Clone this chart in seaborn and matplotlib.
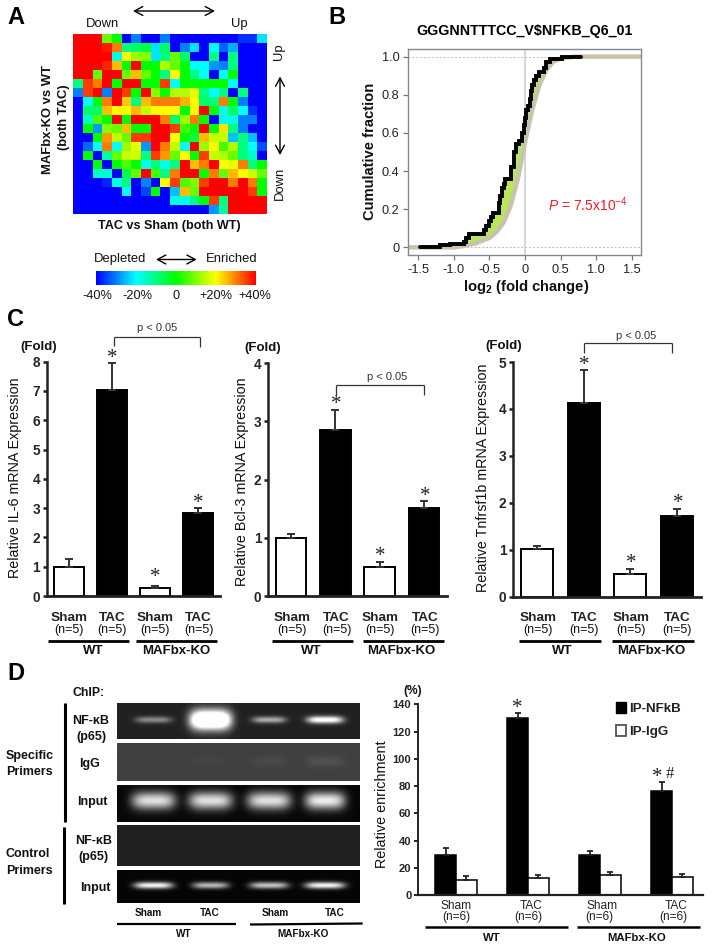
import numpy as np
import pandas as pd
import seaborn as sns
import matplotlib
matplotlib.use("Agg")
import matplotlib.pyplot as plt
from matplotlib.colors import LinearSegmentedColormap
from matplotlib.lines import Line2D
from matplotlib.patches import Patch

# ---- panel A enrichment matrix (percent), top row first
enrichment = [
    [40, 40, 40, 8, 0, -40, -30, -40, -40, -30, -40, -40, -40, -40, -40, -40, -40, -36, -36, -22],
    [40, 40, 40, 38, 30, -10, -8, -5, -22, -8, -40, -30, -22, -40, -20, -32, -26, -40, -40, -40],
    [40, 40, 40, 40, -18, 20, 12, 10, -22, -10, 8, -8, -40, -40, -10, -40, -10, -40, -40, -40],
    [40, 40, 40, 37, 25, 0, 40, 0, 0, 14, 8, 0, -20, -20, -28, -30, -10, -40, -40, -40],
    [40, 40, 8, 40, 40, 8, 25, 8, 0, -10, 20, 0, -10, -20, -40, -20, 0, -40, -40, -40],
    [-10, 35, 30, 40, 0, 40, 40, 0, 0, 35, -20, 0, 0, 0, 0, 0, -20, -40, -40, -40],
    [-30, 35, 40, -30, 40, 35, 0, 40, 10, 0, 14, 14, 18, -10, -20, -10, -40, -10, -40, -40],
    [-40, -20, 0, 30, 40, 24, -10, 25, 30, 30, 30, 26, 20, -8, -10, 30, 0, -30, -40, -40],
    [-40, -8, -8, 25, 20, 20, 25, 15, 20, 20, 20, 0, 20, 40, 0, -18, -8, -20, -36, -40],
    [-40, -15, 6, 0, 40, 0, 40, 40, 40, 30, -8, 12, 30, 0, -40, -18, -18, -30, -30, -40],
    [-40, 0, -28, 10, 8, 25, 0, 0, 40, 40, 35, 5, 0, 40, 0, 22, -10, -30, -40, -40],
    [-40, -40, 0, 28, 15, 8, 35, 35, 40, 40, 20, 0, -5, 25, 15, 15, -25, -10, -25, -40],
    [-40, -32, -20, 30, -20, 12, 18, -28, 40, 30, 15, -18, 40, 12, 20, 5, 14, -10, -20, -34],
    [-40, 0, -40, -12, 8, 15, 16, -10, 35, 28, 8, 20, 0, 35, 15, 14, 8, -10, -15, -40],
    [-40, -40, 0, -40, 0, 6, 0, -18, -10, -18, -10, 40, 25, 30, 40, 20, 18, 30, -10, 0],
    [-40, -40, -16, -16, -40, -6, 8, 40, 5, -10, 30, 40, 40, 0, 30, 8, 25, 20, 16, 8],
    [-40, -40, -40, -37, -18, -10, -40, -30, -40, 20, 35, 6, 10, 35, 40, 40, 30, 40, 30, 0],
    [-40, -40, -40, -40, -40, -20, -40, -35, 0, -40, -25, 25, 8, 40, 40, 40, 40, 40, 35, 0],
    [-40, -40, -40, -40, -40, -40, -40, -40, -40, -40, -18, -18, -10, 0, 35, -10, 40, 40, 40, 40],
    [-40, -40, -40, -40, -40, -40, -40, -40, -40, -40, -40, -40, -40, -40, -28, -12, 40, 40, 40, 40],
]

# ---- panel B cumulative curves
all_x = [-1.64, -1.0, -0.9, -0.7, -0.5, -0.4, -0.3, -0.2, -0.1, 0.0, 0.1, 0.2, 0.3, 0.4, 0.5, 0.7, 1.63]
all_y = [0.0, 0.0, 0.005, 0.02, 0.05, 0.08, 0.13, 0.22, 0.36, 0.55, 0.72, 0.85, 0.93, 0.975, 0.99, 1.0, 1.0]
set_x = [-1.47, -1.19, -1.05, -0.85, -0.83, -0.78, -0.75, -0.58, -0.55, -0.5, -0.48, -0.45, -0.43, -0.36,
         -0.35, -0.32, -0.3, -0.28, -0.27, -0.2, -0.19, -0.16, -0.15, -0.12, -0.08, -0.04, -0.02, 0.0,
         0.01, 0.04, 0.07, 0.08, 0.1, 0.13, 0.15, 0.2, 0.27, 0.3, 0.35, 0.4, 0.52, 0.79]
set_y = [0.0, 0.01, 0.02, 0.03, 0.05, 0.07, 0.07, 0.09, 0.11, 0.14, 0.16, 0.18, 0.18, 0.23,
         0.27, 0.31, 0.33, 0.36, 0.36, 0.40, 0.42, 0.46, 0.50, 0.54, 0.56, 0.60, 0.64, 0.68,
         0.72, 0.74, 0.78, 0.82, 0.85, 0.88, 0.90, 0.92, 0.94, 0.97, 0.99, 0.99, 1.0, 1.0]

# ---- panel C qPCR bars
conditions = ["WT Sham", "WT TAC", "KO Sham", "KO TAC"]
il6_vals = [1.0, 7.03, 0.27, 2.82]
il6_tops = [1.25, 7.95, 0.33, 3.0]
bcl3_vals = [1.0, 2.85, 0.5, 1.52]
bcl3_tops = [1.06, 3.2, 0.58, 1.63]
tnf_vals = [1.01, 4.13, 0.49, 1.71]
tnf_tops = [1.07, 4.82, 0.58, 1.87]

# ---- panel D ChIP bars
chip_groups = ["WT Sham", "WT TAC", "KO Sham", "KO TAC"]
nfkb_vals = [29, 130, 29, 76]
nfkb_tops = [34.3, 133.4, 32, 82.7]
igg_vals = [11, 12.5, 14.5, 13]
igg_tops = [13.7, 14.9, 16.6, 15.7]

# ---- panel D gel lanes: background, band row, band centres, peak, half widths
lane_x = [0.15, 0.385, 0.626, 0.857]
gels = [
    dict(box=(117, 702.7, 360, 739), bg=0.13, y=0.48, wy=0.09, peak=[0.42, 1.5, 0.55, 0.95], wx=[0.075, 0.085, 0.07, 0.075], ws=[1, 3.0, 1, 1.1]),
    dict(box=(117, 742.7, 360, 780.7), bg=0.25, y=0.5, wy=0.15, peak=[0.01, 0.02, 0.04, 0.07], wx=[0.07, 0.08, 0.07, 0.08], ws=[1, 1, 1, 1]),
    dict(box=(117, 785, 360, 822), bg=0.03, y=0.42, wy=0.24, peak=[0.85, 0.85, 0.85, 0.9], wx=[0.09, 0.09, 0.09, 0.083], ws=[1, 1, 1, 1]),
    dict(box=(117, 825, 360, 866), bg=0.13, y=0.4, wy=0.05, peak=[0, 0, 0, 0], wx=[0.07, 0.07, 0.07, 0.07], ws=[1, 1, 1, 1]),
    dict(box=(117, 870, 360, 903.3), bg=0.02, y=0.48, wy=0.1, peak=[0.95, 0.7, 0.75, 0.95], wx=[0.08, 0.075, 0.08, 0.082], ws=[1, 1, 1, 1]),
]

W, H = 714, 948
sns.set_theme(style="white")
plt.rcParams["font.family"] = ["Liberation Sans", "DejaVu Sans"]
plt.rcParams["mathtext.fontset"] = "custom"
plt.rcParams["mathtext.rm"] = "Liberation Sans"
plt.rcParams["mathtext.it"] = "Liberation Sans:italic"
plt.rcParams["mathtext.bf"] = "Liberation Sans:bold"

fig = plt.figure(figsize=(W / 100, H / 100), dpi=100, facecolor="white")


def px_axes(x0, y0, x1, y1):
    return fig.add_axes([x0 / W, 1 - y1 / H, (x1 - x0) / W, (y1 - y0) / H])


def label(x, y, s, size=9.5, weight="normal", ha="center", color="#111111", **kw):
    return fig.text(x / W, 1 - y / H, s, fontsize=size, fontweight=weight, ha=ha, va="center", color=color, **kw)


def rule(x0, y0, x1, y1, lw=2.0, color="black"):
    fig.add_artist(Line2D([x0 / W, x1 / W], [1 - y0 / H, 1 - y1 / H], lw=lw, color=color, solid_capstyle="butt"))


def arrow(x0, y0, x1, y1):
    fig.add_artist(matplotlib.patches.FancyArrowPatch(
        (x0 / W, 1 - y0 / H), (x1 / W, 1 - y1 / H), transform=fig.transFigure,
        arrowstyle="<->,head_length=6,head_width=3.2", lw=1.0, color="black", shrinkA=0, shrinkB=0))


def star(x, y, s="*"):
    # the asterisk sits high in its line box, so move it down a bit
    label(x, y + 3.5, s, size=15, family="Liberation Serif", color="#222222")


# panel letters
label(7, 18, "A", size=17, weight="bold", ha="left", color="black")
label(328, 18, "B", size=17, weight="bold", ha="left", color="black")
label(7, 320, "C", size=17, weight="bold", ha="left", color="black")
label(7, 674, "D", size=17, weight="bold", ha="left", color="black")

# ---------- A: heatmap
jet5 = LinearSegmentedColormap.from_list("jet5", ["#0000ff", "#00ffff", "#00ff00", "#ffff00", "#ff0000"])
ax_a = px_axes(73.3, 33.5, 267, 214)
cax = px_axes(96, 271, 256, 285)
sns.heatmap(np.array(enrichment), ax=ax_a, cmap=jet5, vmin=-40, vmax=40, cbar_ax=cax, square=False,
            xticklabels=False, yticklabels=False, cbar_kws={"orientation": "horizontal"})
cax.set_xticks([-40, -20, 0, 20, 40])
cax.set_xticklabels([])
cax.tick_params(length=0)
for v, s, x in zip([-40, -20, 0, 20, 40], ["-40%", "-20%", "0", "+20%", "+40%"], [97, 137, 176, 216, 255]):
    label(x, 296, s, size=9.2)
label(103, 24, "Down", size=9.4)
label(239, 24, "Up", size=9.4)
arrow(133, 11, 215, 11)
label(278.5, 52, "Up", size=9.4, rotation=90)
label(279.5, 183, "Down", size=9.4, rotation=90)
arrow(280, 76.5, 280, 155)
label(47.7, 120, "MAFbx-KO vs WT", size=9.4, weight="bold", rotation=90)
label(64, 117, "(both TAC)", size=9.4, weight="bold", rotation=90)
label(169, 226, "TAC vs Sham (both WT)", size=9.1, weight="bold")
label(120, 259.3, "Depleted", size=9.4)
label(231.7, 259.3, "Enriched", size=9.4)
arrow(156, 259.5, 196.7, 259.5)

# ---------- B: cumulative fraction
ax_b = px_axes(408.3, 49, 641, 255)
ax_b.set_xlim(-1.637, 1.627)
ax_b.set_ylim(-0.04, 1.04)
ax_b.axhline(0, color="#bbbbbb", lw=0.7, ls=(0, (2, 2)))
ax_b.axhline(1, color="#bbbbbb", lw=0.7, ls=(0, (2, 2)))
ax_b.axvline(0, color="#d0d0d0", lw=1.2)
step_x = np.repeat(set_x, 2)[1:]
step_y = np.repeat(set_y, 2)[:-1]
ax_b.fill(np.r_[step_x[4:], all_x[::-1][2:-2]], np.r_[step_y[4:], all_y[::-1][2:-2]], color="#b9e65a", lw=0)
sns.lineplot(x=all_x, y=all_y, ax=ax_b, color="#c8c3ac", lw=3.2, estimator=None, sort=False)
ax_b.plot(step_x, step_y, color="black", lw=2.8, solid_joinstyle="miter")
ax_b.set_xticks([-1.5, -1, -0.5, 0, 0.5, 1, 1.5])
ax_b.set_xticklabels(["-1.5", "-1.0", "-0.5", "0", "0.5", "1.0", "1.5"])
ax_b.set_yticks([0, 0.2, 0.4, 0.6, 0.8, 1])
ax_b.set_yticklabels(["0", "0.2", "0.4", "0.6", "0.8", "1.0"])
ax_b.tick_params(labelsize=9.2, length=3.5, width=0.9, color="#777777", labelcolor="#222222", bottom=True, left=True, pad=3)
for sp in ax_b.spines.values():
    sp.set_color("#7f8a94")
    sp.set_linewidth(1.0)
label(524.3, 31, "GGGNNTTTCC_V$NFKB_Q6_01", size=10.3, weight="bold", color="black")
label(370, 151.7, "Cumulative fraction", size=10.6, weight="bold", rotation=90)
label(525.7, 287, r"log$\mathbf{_2}$ (fold change)", size=10.6, weight="bold")
label(588, 205, r"$\mathit{P}$ = 7.5x10$^{-4}$", size=10, color="#e8202a")


# ---------- C: qPCR panels
def qpcr_panel(box, vals, tops, ymax, name):
    x0, y0, x1, y1 = box
    ax = px_axes(x0, y0, x1, y1)
    df = pd.DataFrame({"cond": conditions, "value": vals})
    sns.barplot(data=df, x="cond", y="value", hue="cond", palette=["white", "black", "white", "black"],
                ax=ax, width=0.69, edgecolor="black", linewidth=1.4, saturation=1, legend=False)
    err = np.array(tops) - np.array(vals)
    ax.errorbar(range(4), vals, yerr=[np.zeros(4), err], fmt="none", ecolor="#333333", elinewidth=1.4, capsize=2.6, capthick=1.4)
    ax.set_xlim(-0.51, 3.51)
    ax.set_ylim(0, ymax)
    ax.set_yticks(range(ymax + 1))
    ax.set_xticks([])
    ax.set_xlabel("")
    ax.set_ylabel("")
    sns.despine(ax=ax)
    ax.spines["left"].set_linewidth(1.8)
    ax.spines["bottom"].set_linewidth(2.0)
    ax.spines["left"].set_color("#222222")
    ax.spines["bottom"].set_color("#222222")
    ax.tick_params(axis="y", left=True, length=3, width=1.8, labelsize=9.8, pad=2, color="#222222")
    for t in ax.get_yticklabels():
        t.set_fontweight("bold")
    return ax


qpcr_panel((47, 361.7, 220, 596), il6_vals, il6_tops, 8, "IL-6")
qpcr_panel((268.3, 363.3, 446.7, 596), bcl3_vals, bcl3_tops, 4, "Bcl-3")
qpcr_panel((513.3, 362, 700.7, 596.7), tnf_vals, tnf_tops, 5, "Tnfrsf1b")

label(15, 478, "Relative IL-6 mRNA Expression", size=10.3, rotation=90)
label(241.7, 482, "Relative Bcl-3 mRNA Expression", size=10.3, rotation=90)
label(482.7, 478, "Relative Tnfrsf1b mRNA Expression", size=10.3, rotation=90)
label(39, 347, "(Fold)", size=9.5, weight="bold")
label(263, 348, "(Fold)", size=9.5, weight="bold")
label(504, 346, "(Fold)", size=9.5, weight="bold")

for xs, lines, groups in [
    ([69, 112, 155, 198.5], [(48, 129), (136, 217)], [93, 176]),
    ([291.7, 336.5, 380.3, 424.7], [(271.7, 353.3), (362.7, 444)], [311.7, 401]),
    ([537.7, 584.3, 630.8, 677.3], [(519.3, 600.7), (612.3, 694)], [562.7, 651.7]),
]:
    for x, s in zip(xs, ["Sham", "TAC", "Sham", "TAC"]):
        label(x, 618, s, size=9.7, weight="bold", color="#222222")
        label(x, 630.5, "(n=5)", size=9)
    for a, b in lines:
        rule(a, 640.7, b, 640.7, lw=2.0)
    label(groups[0], 650.5, "WT", size=9.5, weight="bold")
    label(groups[1], 650.5, "MAFbx-KO", size=9.5, weight="bold")

for x, y in [(112.7, 355), (155, 574), (198, 500), (336, 401), (380.7, 553), (425, 492.7),
             (584.3, 362), (631, 560), (678.3, 500)]:
    star(x, y)

for xl, xr, top, dl, dr, tx, ty in [(114.3, 200, 336.7, 345.7, 346.7, 157, 328),
                                    (336, 424, 385.3, 395, 395, 387.3, 377),
                                    (584.3, 672.3, 343.3, 353, 353, 635.7, 335.7)]:
    rule(xl, dl, xl, top, lw=0.9, color="#333333")
    rule(xl, top, xr, top, lw=0.9, color="#333333")
    rule(xr, top, xr, dr, lw=0.9, color="#333333")
    label(tx, ty, "p < 0.05", size=8, color="#333333")

# ---------- D: gels
for g in gels:
    x0, y0, x1, y1 = g["box"]
    ax = px_axes(x0, y0, x1, y1)
    nx, ny = int(x1 - x0) * 2, int(y1 - y0) * 2
    xx, yy = np.meshgrid(np.linspace(0, 1, nx), np.linspace(0, 1, ny))
    img = np.full_like(xx, g["bg"])
    for cx, peak, wx, ws in zip(lane_x, g["peak"], g["wx"], g["ws"]):
        img += peak * np.exp(-(np.abs(xx - cx) / wx) ** 4 - (np.abs(yy - g["y"]) / (g["wy"] * ws)) ** 2)
    ax.imshow(img, cmap="gray", vmin=0, vmax=1, aspect="auto", interpolation="bilinear")
    ax.axis("off")

label(72.7, 693, "ChIP:", size=8.8, weight="bold", ha="left")
label(91, 720.7, "NF-κB", size=9, weight="bold")
label(91, 737, "(p65)", size=9, weight="bold")
label(90, 764, "IgG", size=9, weight="bold")
label(92.7, 801.7, "Input", size=9, weight="bold")
label(93.3, 841, "NF-κB", size=9, weight="bold")
label(93.3, 857, "(p65)", size=9, weight="bold")
label(95, 888, "Input", size=9, weight="bold")
label(6, 756, "Specific", size=9, weight="bold", ha="left")
label(6, 772, "Primers", size=9, weight="bold", ha="left")
label(6, 854, "Control", size=9, weight="bold", ha="left")
label(6, 870.7, "Primers", size=9, weight="bold", ha="left")
rule(65, 702.7, 65, 821.7, lw=2.2)
rule(64.3, 826.7, 64.3, 904, lw=2.2)
for x, s in zip([148, 210, 275, 335], ["Sham", "TAC", "Sham", "TAC"]):
    label(x, 913, s, size=7.2, weight="bold")
rule(117, 924, 235.7, 924, lw=1.6)
rule(250, 924.5, 362.7, 923.5, lw=1.6)
label(184, 933.7, "WT", size=7.2, weight="bold")
label(302.7, 934, "MAFbx-KO", size=7.2, weight="bold")

# ---------- D: enrichment bars
ax_d = px_axes(418.3, 704.3, 703.3, 895)
chip = pd.DataFrame({
    "group": chip_groups * 2,
    "value": nfkb_vals + igg_vals,
    "ip": ["IP-NFkB"] * 4 + ["IP-IgG"] * 4,
})
sns.barplot(data=chip, x="group", y="value", hue="ip", palette=["black", "white"], ax=ax_d, width=0.58,
            dodge=True, edgecolor="black", linewidth=1.1, saturation=1, legend=False)
centres = np.arange(4)
ax_d.errorbar(centres - 0.145, nfkb_vals, yerr=[np.zeros(4), np.array(nfkb_tops) - nfkb_vals], fmt="none",
              ecolor="#222222", elinewidth=1.3, capsize=2.3, capthick=1.3)
ax_d.errorbar(centres + 0.145, igg_vals, yerr=[np.zeros(4), np.array(igg_tops) - igg_vals], fmt="none",
              ecolor="#222222", elinewidth=1.3, capsize=2.3, capthick=1.3)
ax_d.set_xlim(-0.524, 3.435)
ax_d.set_ylim(0, 140)
ax_d.set_yticks(range(0, 141, 20))
ax_d.set_xticks([])
ax_d.set_xlabel("")
ax_d.set_ylabel("")
sns.despine(ax=ax_d)
ax_d.spines["left"].set_linewidth(1.4)
ax_d.spines["bottom"].set_linewidth(1.6)
ax_d.spines["left"].set_color("#222222")
ax_d.spines["bottom"].set_color("#222222")
ax_d.tick_params(axis="y", left=True, length=3, width=1.4, labelsize=8, pad=2, color="#222222")
for t in ax_d.get_yticklabels():
    t.set_fontweight("bold")
ax_d.legend(handles=[Patch(facecolor="black", edgecolor="black", label="IP-NFkB"),
                     Patch(facecolor="white", edgecolor="#444444", lw=1.2, label="IP-IgG")],
            loc="upper left", bbox_to_anchor=(616 / W, 1 - 702 / H), bbox_transform=fig.transFigure, frameon=False,
            prop={"size": 9.6, "weight": "bold"}, handlelength=0.75, handleheight=0.85, handletextpad=0.25,
            labelspacing=0.75, borderpad=0, borderaxespad=0, labelcolor="#222222")

label(412.7, 691, "(%)", size=8.6, weight="bold")
label(381.7, 804.5, "Relative enrichment", size=10.4, rotation=90)
for x, s in zip([456, 530.7, 601.7, 676], ["Sham", "TAC", "Sham", "TAC"]):
    label(x, 906, s, size=8.6, color="#222222")
for x in [456, 528, 599, 673.7]:
    label(x, 917.3, "(n=6)", size=8.6, color="#222222")
rule(425, 927, 568.3, 927, lw=1.8)
rule(577.3, 927, 700, 927, lw=1.8)
label(492.3, 938.3, "WT", size=8.2, weight="bold")
label(636.7, 938.3, "MAFbx-KO", size=8.2, weight="bold")
star(517, 705)
star(657, 774)
label(670, 774, "#", size=12, family="Liberation Serif", color="#222222")

fig.savefig("out.png", dpi=100)
